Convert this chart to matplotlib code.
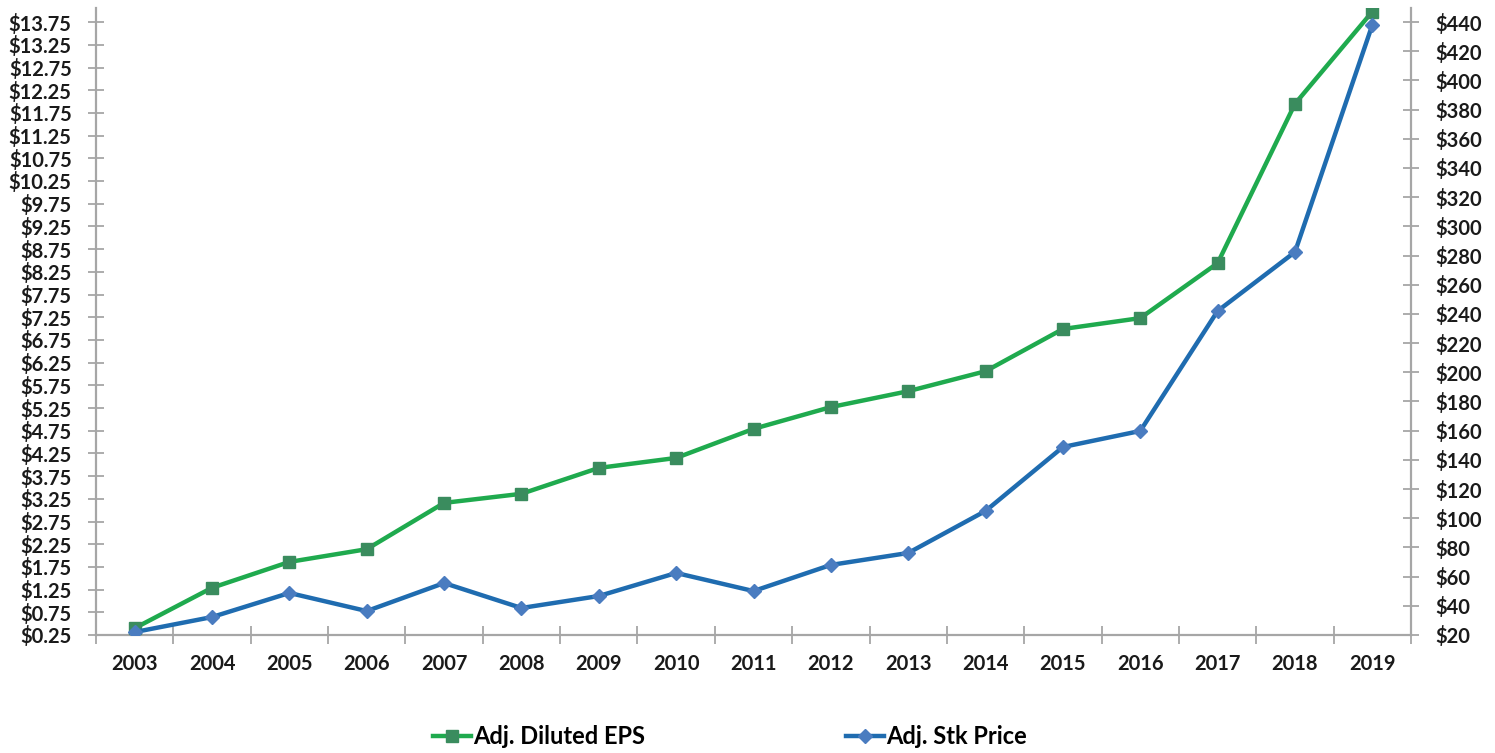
import matplotlib
matplotlib.use("Agg")
import matplotlib.pyplot as plt
from matplotlib.ticker import FixedLocator

years = ["2003", "2004", "2005", "2006", "2007", "2008", "2009", "2010", "2011",
         "2012", "2013", "2014", "2015", "2016", "2017", "2018", "2019"]
eps = [0.40, 1.29, 1.86, 2.14, 3.16, 3.36, 3.93, 4.15, 4.79,
       5.27, 5.62, 6.06, 6.99, 7.23, 8.44, 11.95, 13.98]
price = [22, 32.3, 48.8, 36.4, 55.6, 38.5, 46.7, 62.5, 50.1,
         68, 76.2, 105, 148.8, 159.8, 242, 282.4, 438]

eps_ticks = [0.25 + 0.5 * i for i in range(28)]
price_ticks = [20 + 20 * i for i in range(22)]

plt.rcParams['font.family'] = ['Lato', 'DejaVu Sans']
plt.rcParams['font.weight'] = 'bold'

W, H = 1495, 753
fig = plt.figure(figsize=(W / 100, H / 100), dpi=100)
ax = fig.add_axes([96 / W, 1 - 635 / H, (1411 - 96) / W, (635 - 8) / H])
ax2 = ax.twinx()

x = list(range(len(years)))
spine_col = "#a6a6a6"

l1, = ax.plot(x, eps, color="#1faa4e", lw=3.2, marker="s", markersize=9,
              markerfacecolor="#3a8c5e", markeredgecolor="#3a8c5e", zorder=3,
              label="Adj. Diluted EPS")
l2, = ax2.plot(x, price, color="#1f6cb0", lw=3.2, marker="D", markersize=7.5,
               markerfacecolor="#4a7cc0", markeredgecolor="#4a7cc0", zorder=3,
               label="Adj. Stk Price")

ax.set_xlim(-0.5, len(years) - 0.5)
ax.set_ylim(0.25, 0.25 + 627 / 45.4)
ax2.set_ylim(20, 20 + 627 * 420 / 613)

ax.set_yticks(eps_ticks)
ax.set_yticklabels([f"${v:.2f}" for v in eps_ticks])
ax2.set_yticks(price_ticks)
ax2.set_yticklabels([f"${v}" for v in price_ticks])
ax.set_xticks(x)
ax.set_xticklabels(years)
ax.xaxis.set_minor_locator(FixedLocator([i + 0.5 for i in range(-1, len(years))]))

for a in (ax, ax2):
    for s in a.spines.values():
        s.set_visible(False)
    a.tick_params(axis="y", direction="inout", length=11, width=1.3,
                  color=spine_col, labelsize=14.5, pad=12, labelcolor="#1a1a1a")
ax.spines["left"].set_visible(True)
ax.spines["bottom"].set_visible(True)
ax2.spines["right"].set_visible(True)
for s in (ax.spines["left"], ax.spines["bottom"], ax2.spines["right"]):
    s.set_color(spine_col)
    s.set_linewidth(1.6)

ax.tick_params(axis="x", which="major", length=0, labelsize=14.5, pad=14,
               labelcolor="#1a1a1a")
ax.tick_params(axis="x", which="minor", direction="inout", length=13, width=1.3,
               color=spine_col)

fig.legend(handles=[l1, l2], loc="center", bbox_to_anchor=(730 / W, 1 - 737 / H),
           ncol=2, frameon=False, fontsize=17, handlelength=1.6,
           handletextpad=0.1, columnspacing=8.5, borderpad=0)

fig.savefig("out.png", dpi=100)
